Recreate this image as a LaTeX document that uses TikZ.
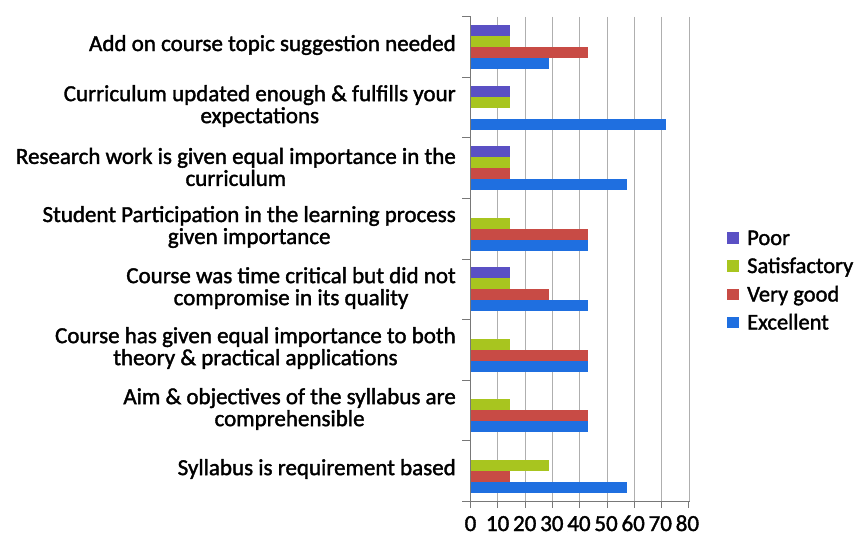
\documentclass[tikz,border=0pt]{standalone}
\usepackage{fontspec}
\setmainfont{Carlito}[FakeBold=1.6]
\definecolor{cpoor}{RGB}{90,80,196}
\definecolor{csat}{RGB}{168,197,31}
\definecolor{cvg}{RGB}{200,75,69}
\definecolor{cexc}{RGB}{31,111,224}
\definecolor{cgrid}{RGB}{175,175,175}
\definecolor{caxis}{RGB}{120,120,120}
\begin{document}
\begin{tikzpicture}[x=1pt,y=-1pt,
  lbl/.style={anchor=east, align=center, inner sep=0pt, font=\fontsize{23}{22}\selectfont},
  num/.style={anchor=base, inner sep=0pt, font=\fontsize{23}{24}\selectfont},
  legbox/.style={minimum size=11.5pt, inner sep=0pt, draw=none},
  legtxt/.style={anchor=base west, inner sep=0pt, font=\fontsize{22.5}{24}\selectfont},
  grid/.style={cgrid, line width=0.8pt},
  axisline/.style={caxis, line width=1pt}]
\useasboundingbox (0,0) rectangle (859,540);
\fill[white] (0,0) rectangle (859,540);
% gridlines
\foreach \k in {1,...,8}
  \draw[grid] ({470.5+27.3*\k},17) -- ({470.5+27.3*\k},501);
% bars: counts out of 7, 1 count = 39 px
\foreach \i/\a/\b/\c/\d in {0/1/1/3/2, 1/1/1/0/5, 2/1/1/1/4, 3/0/1/3/3, 4/1/1/2/3, 5/0/1/3/3, 6/0/1/3/3, 7/0/2/1/4} {
  \pgfmathsetmacro\t{17+60.5*\i+8.25}
  \ifnum\a>0 \fill[cpoor] (470.5,\t) rectangle ++({39*\a},11); \fi
  \ifnum\b>0 \fill[csat] (470.5,\t+11) rectangle ++({39*\b},11); \fi
  \ifnum\c>0 \fill[cvg] (470.5,\t+22) rectangle ++({39*\c},11); \fi
  \ifnum\d>0 \fill[cexc] (470.5,\t+33) rectangle ++({39*\d},11); \fi
}
% axes
\draw[axisline] (470.5,17) -- (470.5,501) -- (689.5,501);
\foreach \i in {0,...,8}
  \draw[axisline] (462,{17+60.5*\i}) -- (470.5,{17+60.5*\i});
\foreach \k in {0,...,8}
  \draw[axisline] ({470.5+27.3*\k},501) -- ({470.5+27.3*\k},508);
% axis numbers
\foreach \k in {0,...,8}
  \node[num] (n\k) at ({470.5+27.3*\k-1.5*\k/8},531) {\pgfmathparse{int(10*\k)}\pgfmathresult};
% category labels
\node[lbl] (c1) at (456,45) {Add on course topic suggestion needed};
\node[lbl] (c2) at (456,106) {Curriculum updated enough \& fulfills your\\expectations};
\node[lbl] (c3) at (456,167) {Research work is given equal importance in the\\curriculum};
\node[lbl] (c4) at (456,227) {Student Participation in the learning process\\given importance};
\node[lbl] (c5) at (456,288) {Course was time critical but did not\\compromise in its quality};
\node[lbl] (c6) at (456,348) {Course has given equal importance to both\\theory \& practical applications};
\node[lbl] (c7) at (456,409) {Aim \& objectives of the syllabus are\\comprehensible};
\node[lbl] (c8) at (456,469) {Syllabus is requirement based};
% legend
\node[legbox, fill=cpoor] (lb1) at (733,238) {};
\node[legbox, fill=csat] (lb2) at (733,266) {};
\node[legbox, fill=cvg] (lb3) at (733,294.5) {};
\node[legbox, fill=cexc] (lb4) at (733,322.5) {};
\node[legtxt] (lt1) at (747,245) {Poor};
\node[legtxt] (lt2) at (747,273) {Satisfactory};
\node[legtxt] (lt3) at (747,301.5) {Very good};
\node[legtxt] (lt4) at (747,329.5) {Excellent};
\end{tikzpicture}
\end{document}
